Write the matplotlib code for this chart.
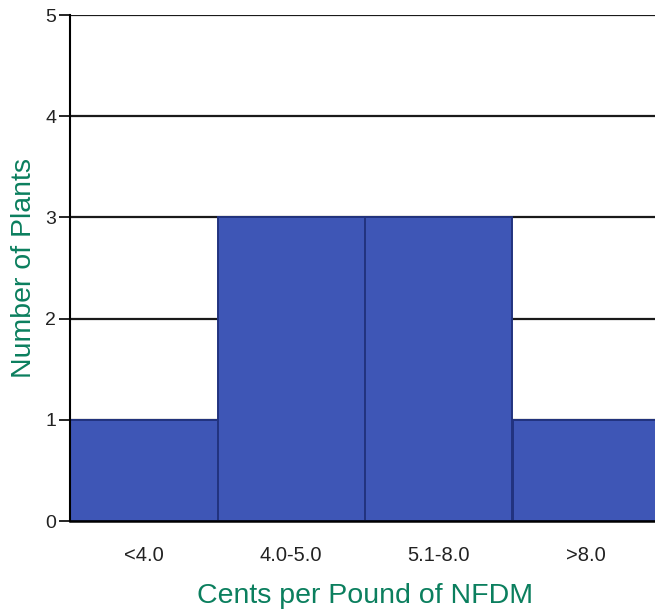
import numpy as np
import matplotlib.pyplot as plt

plt.rcParams['font.family'] = ['Liberation Sans', 'DejaVu Sans']

categories = ['<4.0', '4.0-5.0', '5.1-8.0', '>8.0']
plants = [1, 3, 3, 1]

green = '#0b7f5e'

fig = plt.figure(figsize=(6.55, 6.14), dpi=100)
# plot area runs slightly past the right edge, like the original
ax = fig.add_axes([70 / 655, 1 - 521 / 614, 590 / 655, 506 / 614])

x = np.arange(len(categories))
ax.bar(x, plants, width=1.0, color='#3e56b6', edgecolor='#22337f', linewidth=1.4, zorder=2)

ax.set_xlim(-0.5, 3.5)
ax.set_ylim(0, 5)
ax.set_yticks(range(6))
ax.set_xticks(x)
ax.set_xticklabels(categories, fontsize=14.5, color='#222222')
ax.tick_params(axis='y', labelsize=14, length=8, width=1.2, pad=2, labelcolor='#222222')
ax.tick_params(axis='x', length=0, pad=18)

ax.yaxis.grid(True, color='#1a1a1a', linewidth=1.6, zorder=1)
ax.set_axisbelow(True)
for side in ['top', 'right']:
    ax.spines[side].set_visible(False)
ax.spines['left'].set_linewidth(1.5)
ax.spines['bottom'].set_linewidth(1.8)

ax.set_xlabel('Cents per Pound of NFDM', color=green, fontsize=20.5, labelpad=13)
ax.set_ylabel('Number of Plants', color=green, fontsize=20.5, labelpad=6)

fig.savefig('out.png', dpi=100)
